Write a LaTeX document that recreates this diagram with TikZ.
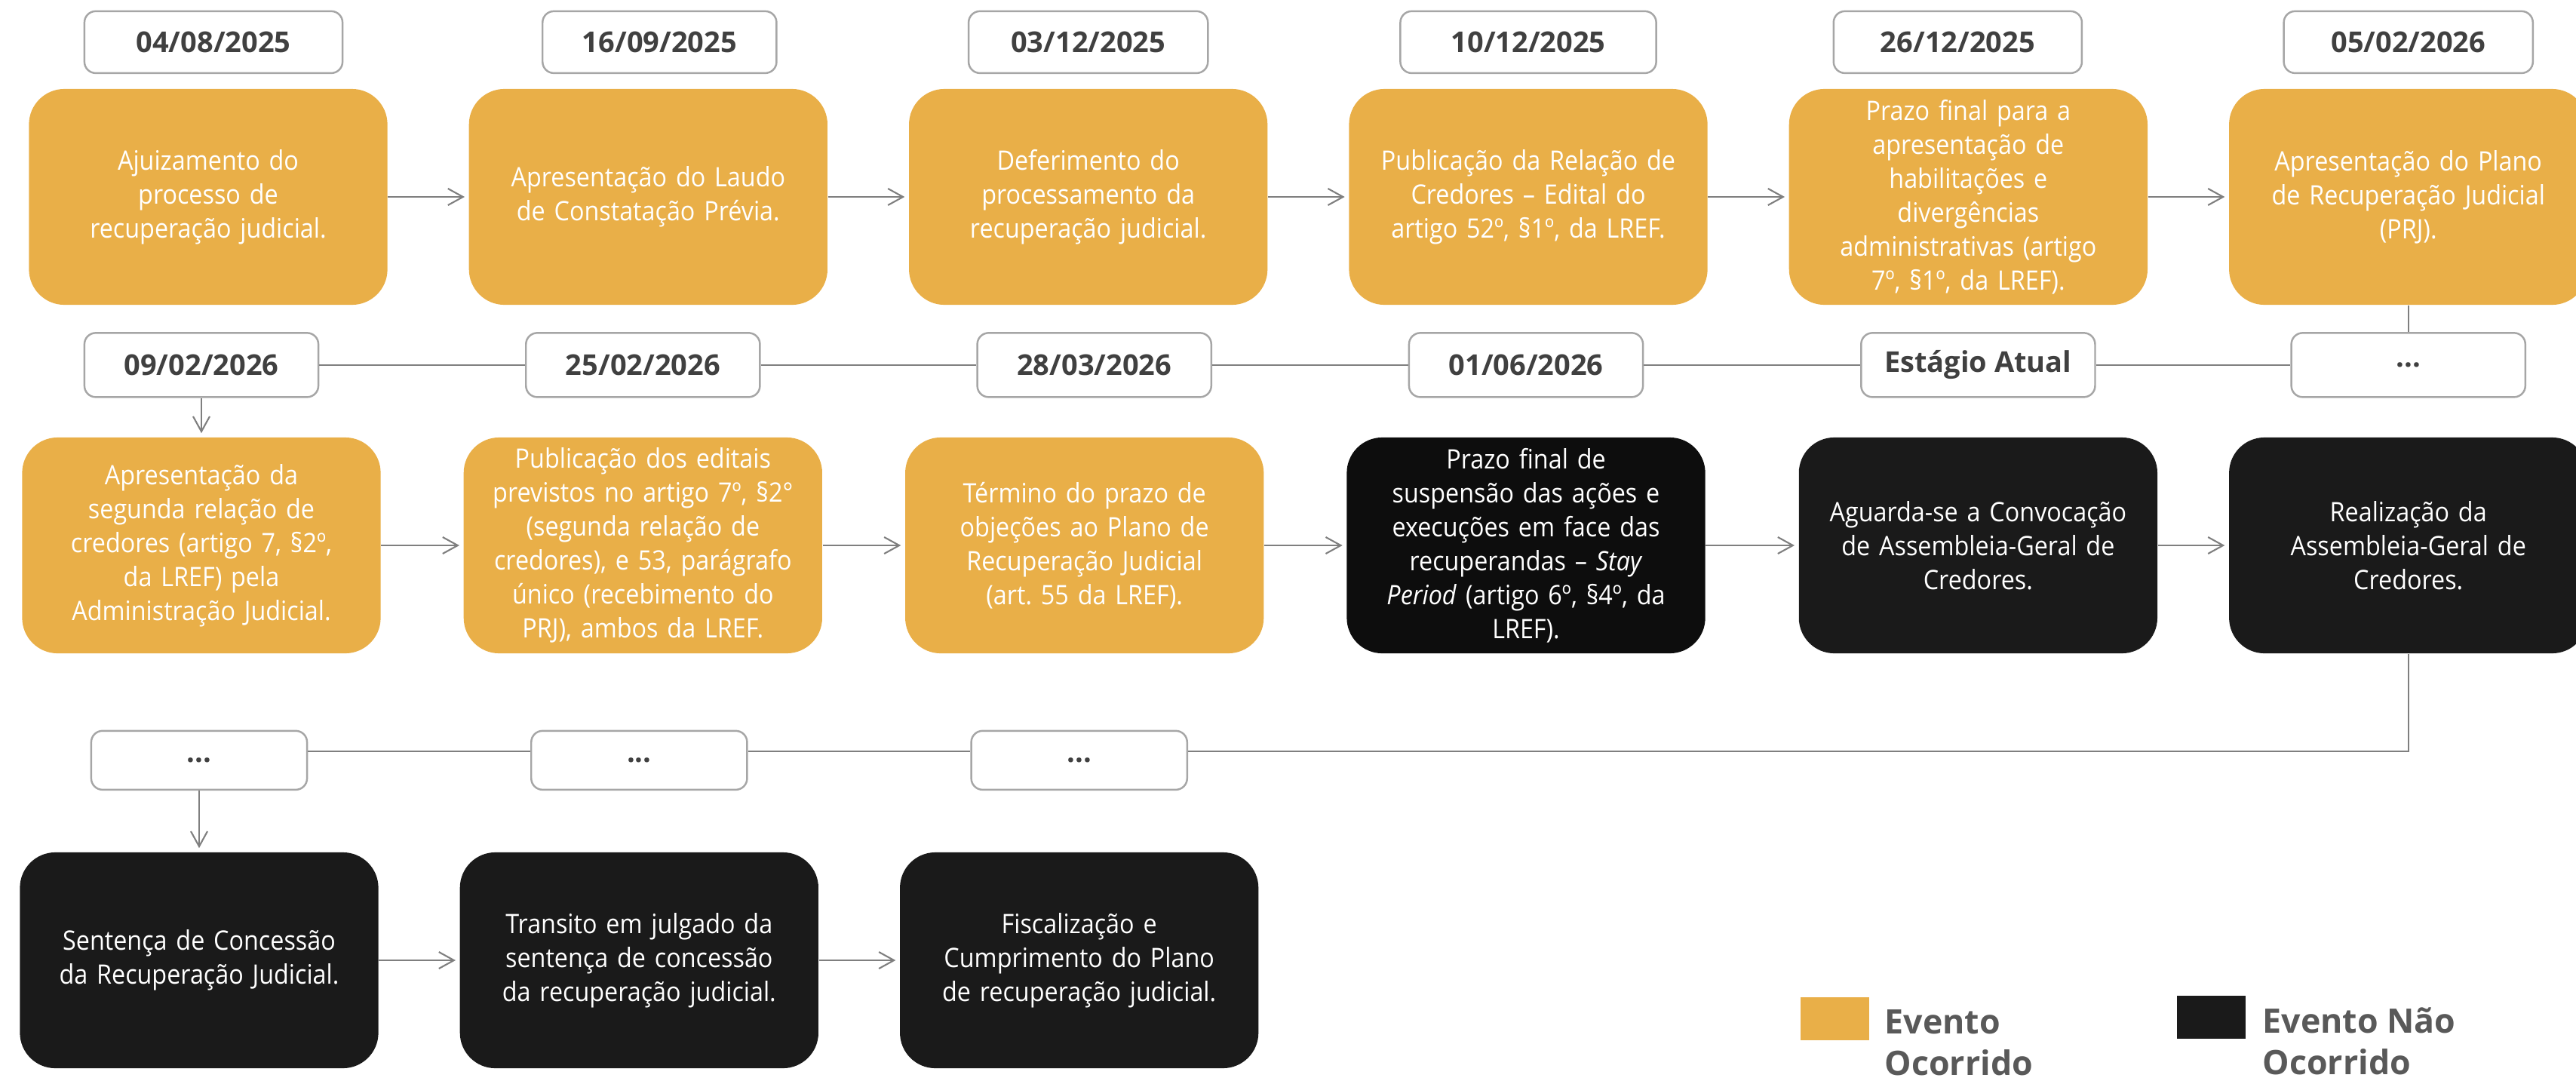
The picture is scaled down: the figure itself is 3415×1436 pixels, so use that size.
\documentclass[tikz,border=0pt]{standalone}
\usepackage{fontspec}
\setmainfont{Open Sans}
\newfontfamily\eventofont{Open Sans}[FakeStretch=0.91]
\usepackage{tikz}
\usetikzlibrary{shapes, arrows.meta, positioning}
\definecolor{ocorrido}{HTML}{E9AF48}
\definecolor{naoocorrido}{HTML}{1A1A1A}
\definecolor{quasepreto}{HTML}{0D0D0D}
\definecolor{cinzalinha}{HTML}{7F7F7F}
\definecolor{cinzaborda}{HTML}{A6A6A6}
\definecolor{textodata}{HTML}{404040}
\definecolor{textolegenda}{HTML}{595959}
\tikzstyle{evento} = [rectangle, rounded corners=0.47cm, fill=ocorrido, text=white,
    minimum width=4.75cm, minimum height=2.86cm, text width=4.5cm, align=center,
    inner sep=2pt, font=\eventofont\fontsize{10.1}{12.8}\selectfont]
\tikzstyle{pendente} = [evento, fill=naoocorrido]
\tikzstyle{data} = [draw=cinzaborda, line width=0.7pt, fill=white, rectangle,
    rounded corners=0.15cm, minimum width=3.2cm, minimum height=0.82cm,
    text=textodata, font=\fontsize{10.8}{13}\selectfont\bfseries]
\tikzstyle{linha} = [draw=cinzalinha, line width=0.6pt]
\tikzstyle{seta} = [linha, ->, shorten >=0.05cm]
\tikzstyle{quadrado} = [rectangle, minimum width=0.91cm, minimum height=0.57cm, inner sep=0pt]
\tikzstyle{legenda} = [anchor=north west, inner sep=0pt, align=left, text=textolegenda,
    font=\fontsize{12.7}{15.6}\selectfont\bfseries]

\begin{document}
\begin{tikzpicture}[x=0.01cm, y=-0.01cm, node distance=5.83cm,
    >={Straight Barb[length=0.2cm,width=0.22cm]}]
    \useasboundingbox (0,0) rectangle (3415,1436);

    % primeira linha
    \node [evento] (e11) at (276,261) {Ajuizamento do\\processo de\\recuperação judicial.};
    \node [evento, right of=e11] (e12) {Apresentação do Laudo\\de Constatação Prévia.};
    \node [evento, right of=e12] (e13) {Deferimento do\\processamento da\\recuperação judicial.};
    \node [evento, right of=e13] (e14) {Publicação da Relação de\\Credores – Edital do\\artigo 52º, §1º, da LREF.};
    \node [evento, right of=e14] (e15) {Prazo final para a\\apresentação de\\habilitações e\\divergências\\administrativas (artigo\\7º, §1º, da LREF).};
    \node [evento, right of=e15] (e16) {Apresentação do Plano\\de Recuperação Judicial\\(PRJ).};

    \node [data, above of=e11, node distance=2.05cm, xshift=0.07cm, minimum width=3.42cm] (d11) {04/08/2025};
    \node [data, above of=e12, node distance=2.05cm, xshift=0.15cm, minimum width=3.1cm] (d12) {16/09/2025};
    \node [data, above of=e13, node distance=2.05cm, minimum width=3.17cm] (d13) {03/12/2025};
    \node [data, above of=e14, node distance=2.05cm, minimum width=3.39cm] (d14) {10/12/2025};
    \node [data, above of=e15, node distance=2.05cm, xshift=-0.14cm, minimum width=3.29cm] (d15) {26/12/2025};
    \node [data, above of=e16, node distance=2.05cm, minimum width=3.3cm] (d16) {05/02/2026};

    % segunda linha
    \node [evento] (e21) at (267,723) {Apresentação da\\segunda relação de\\credores (artigo 7, §2º,\\da LREF) pela\\Administração Judicial.};
    \node [evento, right of=e21, node distance=5.85cm] (e22) {Publicação dos editais\\previstos no artigo 7º, §2°\\(segunda relação de\\credores), e 53, parágrafo\\único (recebimento do\\PRJ), ambos da LREF.};
    \node [evento, right of=e22, node distance=5.85cm] (e23) {Término do prazo de\\objeções ao Plano de\\Recuperação Judicial\\(art.\ 55 da LREF).};
    \node [pendente, fill=quasepreto, right of=e23, node distance=5.85cm] (e24) {Prazo final de\\suspensão das ações e\\execuções em face das\\recuperandas – \textit{Stay}\\\textit{Period} (artigo 6º, §4º, da\\LREF).};
    \node [pendente, right of=e24, node distance=5.85cm, xshift=0.14cm] (e25) {Aguarda-se a Convocação\\de Assembleia-Geral de\\Credores.};
    \node [pendente, right of=e25, node distance=5.85cm, xshift=-0.15cm] (e26) {Realização da\\Assembleia-Geral de\\Credores.};

    \node [data, above of=e21, node distance=2.39cm, minimum width=3.1cm, minimum height=0.85cm] (r21) {09/02/2026};
    \node [data, above of=e22, node distance=2.39cm, minimum width=3.1cm, minimum height=0.85cm] (r22) {25/02/2026};
    \node [data, above of=e23, node distance=2.39cm, xshift=0.13cm, minimum width=3.1cm, minimum height=0.85cm] (r23) {28/03/2026};
    \node [data, above of=e24, node distance=2.39cm, minimum width=3.1cm, minimum height=0.85cm] (r24) {01/06/2026};
    \node [data, above of=e25, node distance=2.39cm, minimum width=3.1cm, minimum height=0.85cm] (r25) {Estágio Atual};
    \node [data, above of=e26, node distance=2.39cm, minimum width=3.1cm, minimum height=0.85cm] (r26) {...};

    % terceira linha
    \node [pendente] (e31) at (264,1273) {Sentença de Concessão\\da Recuperação Judicial.};
    \node [pendente, right of=e31] (e32) {Transito em julgado da\\sentença de concessão\\da recuperação judicial.};
    \node [pendente, right of=e32] (e33) {Fiscalização e\\Cumprimento do Plano\\de recuperação judicial.};

    \node [data, above of=e31, node distance=2.65cm, minimum width=2.86cm, minimum height=0.78cm] (b31) {...};
    \node [data, above of=e32, node distance=2.65cm, minimum width=2.86cm, minimum height=0.78cm] (b32) {...};
    \node [data, above of=e33, node distance=2.65cm, minimum width=2.86cm, minimum height=0.78cm] (b33) {...};

    % conexoes
    \foreach \a/\b in {e11/e12, e12/e13, e13/e14, e14/e15, e15/e16,
                       e21/e22, e22/e23, e23/e24, e24/e25, e25/e26,
                       e31/e32, e32/e33}
        \draw [seta] (\a) -- (\b);
    \draw [linha] (e16.south) -- (e16.south |- r26.north);
    \foreach \a/\b in {r21/r22, r22/r23, r23/r24, r24/r25, r25/r26}
        \draw [linha] (\a.east) -- (\b.west);
    \draw [seta] (r21.south) -- (r21.south |- e21.north);
    \draw [linha] (e26.south) |- ([yshift=0.12cm]b33.east);
    \draw [linha] ([yshift=0.12cm]b32.east) -- ([yshift=0.12cm]b33.west);
    \draw [linha] ([yshift=0.12cm]b31.east) -- ([yshift=0.12cm]b32.west);
    \draw [seta] (b31.south) -- (b31.south |- e31.north);

    % legenda
    \node [quadrado, fill=ocorrido] (legoc) at (2432,1350) {};
    \node [legenda] (legoctxt) at (2498,1338) {Evento\\Ocorrido};
    \node [quadrado, fill=naoocorrido] (legnao) at (2931,1348) {};
    \node [legenda] (legnaotxt) at (2999,1335) {Evento Não\\Ocorrido};
\end{tikzpicture}
\end{document}
